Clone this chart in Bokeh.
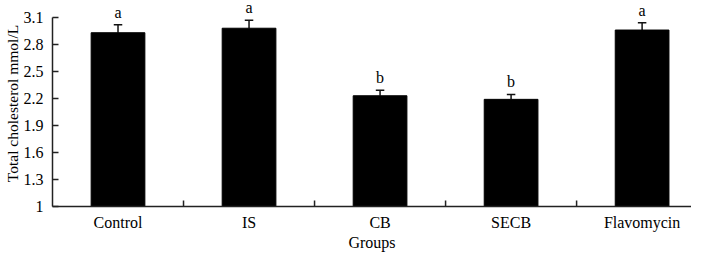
from bokeh.plotting import figure
from bokeh.models import Range1d, FixedTicker, Whisker, TeeHead, ColumnDataSource, LabelSet
from bokeh.embed import file_html
from bokeh.resources import INLINE

# ---- data ----
groups = ["Control", "IS", "CB", "SECB", "Flavomycin"]
means = [2.93, 2.98, 2.23, 2.19, 2.96]
errors = [0.09, 0.09, 0.06, 0.055, 0.08]
letters = ["a", "a", "b", "b", "a"]
y_ticks = [1, 1.3, 1.6, 1.9, 2.2, 2.5, 2.8, 3.1]
y_tick_labels = ["1", "1.3", "1.6", "1.9", "2.2", "2.5", "2.8", "3.1"]
x_title = "Groups"
y_title = "Total cholesterol mmol/L"

FONT = "Liberation Serif"
AXIS_COLOR = "#222222"
TICK_LEN = 0.066  # inward tick length in data units (~6px)
Y_END = 3.288     # headroom above the axis for the letters
X_END = 4.877     # the axis runs on past the right edge, as in the original

centers = [i + 0.5 for i in range(len(groups))]
boundaries = [i for i in range(1, len(groups))]
uppers = [m + e for m, e in zip(means, errors)]

src = ColumnDataSource(dict(x=centers, m=means, up=uppers, lab=letters))

y_start = y_ticks[0]
p = figure(width=691, height=253, output_backend="svg", toolbar_location=None,
           x_range=Range1d(0, X_END), y_range=Range1d(y_start, Y_END),
           min_border_left=52, min_border_right=0, min_border_top=0,
           min_border_bottom=46)
p.outline_line_color = None
p.xgrid.visible = False
p.ygrid.visible = False
p.background_fill_color = "white"

p.vbar(x="x", top="m", bottom=y_start, width=0.41, source=src,
       fill_color="black", line_color="black")

wh = Whisker(base="x", lower="m", upper="up", source=src,
             line_color="#111111", line_width=1.5,
             upper_head=TeeHead(size=8.5, line_color="#111111", line_width=1.5),
             lower_head=None)
p.add_layout(wh)

p.add_layout(LabelSet(x="x", y="up", text="lab", source=src, text_align="center",
                      text_baseline="alphabetic", y_offset=7,
                      text_font=FONT, text_font_size="16px", text_color="black"))

# category boundary ticks (inward)
p.segment(x0=boundaries, y0=[y_start] * len(boundaries),
          x1=boundaries, y1=[y_start + TICK_LEN] * len(boundaries),
          line_color=AXIS_COLOR, line_width=1.5)

# y axis
ya = p.yaxis[0]
ya.ticker = FixedTicker(ticks=y_ticks)
ya.major_label_overrides = {t: l for t, l in zip(y_ticks, y_tick_labels)}
ya.bounds = (y_ticks[0], y_ticks[-1])
ya.major_tick_in = 6
ya.major_tick_out = 0
ya.minor_tick_line_color = None
ya.major_label_standoff = 9
ya.major_label_text_font = FONT
ya.major_label_text_font_size = "16px"
ya.major_label_text_color = "black"
ya.axis_label = y_title
ya.axis_label_text_font = FONT
ya.axis_label_text_font_style = "normal"
ya.axis_label_text_font_size = "15.5px"
ya.axis_label_text_color = "black"
ya.axis_label_standoff = 0
ya.axis_line_color = AXIS_COLOR
ya.axis_line_width = 1.5
ya.major_tick_line_color = AXIS_COLOR
ya.major_tick_line_width = 1.5

# x axis: category labels + title
xa = p.xaxis[0]
xa.ticker = FixedTicker(ticks=centers)
xa.major_label_overrides = {c: g for c, g in zip(centers, groups)}
xa.major_tick_in = 0
xa.major_tick_out = 0
xa.major_tick_line_color = None
xa.minor_tick_line_color = None
xa.major_label_standoff = 7
xa.major_label_text_font = FONT
xa.major_label_text_font_size = "16px"
xa.major_label_text_color = "black"
xa.axis_label = x_title
xa.axis_label_text_font = FONT
xa.axis_label_text_font_style = "normal"
xa.axis_label_text_font_size = "16px"
xa.axis_label_text_color = "black"
xa.axis_label_standoff = 0
xa.axis_line_color = AXIS_COLOR
xa.axis_line_width = 1.5

open("out.html", "w").write(file_html(p, INLINE))
